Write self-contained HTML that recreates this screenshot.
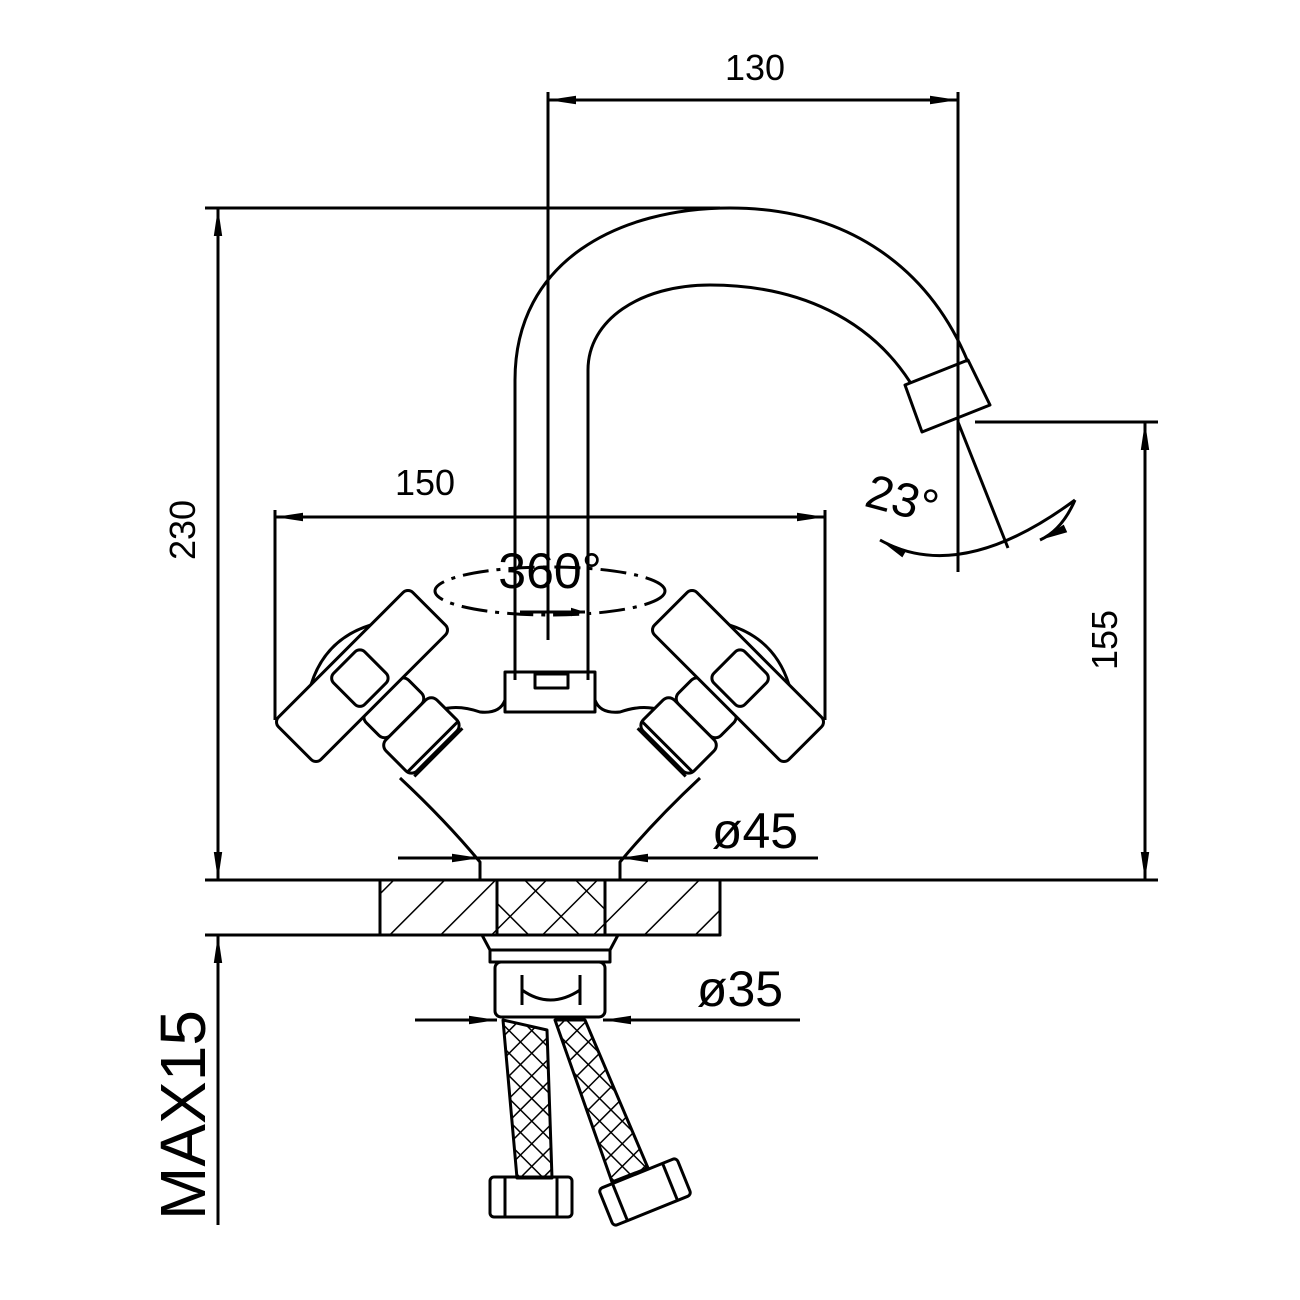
<!DOCTYPE html>
<html><head><meta charset="utf-8"><style>html,body{margin:0;padding:0;background:#fff}svg{display:block}</style></head>
<body>
<svg width="1300" height="1300" viewBox="0 0 1300 1300" xmlns="http://www.w3.org/2000/svg" font-family="Liberation Sans, sans-serif">
<defs>
<marker id="a" viewBox="0 0 10 10" refX="10" refY="5" markerWidth="14" markerHeight="14" markerUnits="userSpaceOnUse" orient="auto-start-reverse"><path d="M0,2 L10,5 L0,8 z" fill="#000"/></marker>
<marker id="b" viewBox="0 0 20 10" refX="20" refY="5" markerWidth="40" markerHeight="14" markerUnits="userSpaceOnUse" orient="auto-start-reverse"><path d="M0,2 L20,5 L0,8 z" fill="#000"/></marker>
<pattern id="h1" width="36" height="36" patternUnits="userSpaceOnUse" patternTransform="rotate(45)"><line x1="0" y1="0" x2="0" y2="36" stroke="#000" stroke-width="3"/></pattern>
<pattern id="h2" width="36" height="36" patternUnits="userSpaceOnUse" patternTransform="rotate(-45)"><line x1="0" y1="0" x2="0" y2="36" stroke="#000" stroke-width="3"/></pattern>
<pattern id="x" width="16" height="16" patternUnits="userSpaceOnUse" patternTransform="rotate(45)"><rect width="16" height="16" fill="#fff"/><line x1="0" y1="0" x2="16" y2="0" stroke="#000" stroke-width="3"/><line x1="0" y1="0" x2="0" y2="16" stroke="#000" stroke-width="3"/></pattern>
</defs>
<g fill="none" stroke="#000" stroke-width="3" stroke-linejoin="round">
<line x1="548" y1="92" x2="548" y2="640"/>
<line x1="958" y1="92" x2="958" y2="572"/>
<line x1="548" y1="100" x2="958" y2="100" marker-start="url(#b)" marker-end="url(#b)"/>
<line x1="205" y1="208" x2="720" y2="208"/>
<line x1="218" y1="208" x2="218" y2="880" marker-start="url(#b)" marker-end="url(#b)"/>
<path d="M515,680 L515,380 C515,260 620,208 730,208 C850,208 930,270 968,362"/>
<path d="M588,680 L588,370 C588,320 640,285 710,285 C800,285 870,320 910,382"/>
<path d="M905,385 L968,360 L990,405 L922,432 Z"/>
<line x1="975" y1="422" x2="1158" y2="422"/>
<line x1="1145" y1="422" x2="1145" y2="880" marker-start="url(#b)" marker-end="url(#b)"/>
<line x1="958" y1="422" x2="1008" y2="548"/>
<path d="M880,540 Q960,585 1075,500" marker-start="url(#b)"/>
<path d="M1075,500 Q1062,530 1040,540" marker-end="url(#b)"/>
<line x1="275" y1="510" x2="275" y2="720"/>
<line x1="825" y1="510" x2="825" y2="720"/>
<line x1="275" y1="517" x2="825" y2="517" marker-start="url(#b)" marker-end="url(#b)"/>
<ellipse cx="550" cy="591" rx="115" ry="24" stroke-dasharray="26,8,4,8"/>
<line x1="520" y1="612" x2="585" y2="612" marker-end="url(#a)"/>
<rect x="505" y="672" width="90" height="40"/>
<rect x="535" y="674" width="33" height="14"/>
<path d="M400,778 Q445,820 480,862 L480,880"/>
<path d="M700,778 Q655,820 620,862 L620,880"/>
<path d="M425,720 Q445,700 480,712 Q500,714 505,700"/>
<path d="M675,720 Q655,700 620,712 Q600,714 595,700"/>
<g transform="translate(362,676) rotate(-45)" fill="#fff">
<path d="M-42,-30 Q0,-52 42,-30"/>
<rect x="-30" y="28" width="60" height="34" rx="8"/>
<rect x="-36" y="62" width="72" height="44" rx="8"/>
<line x1="-36" y1="100" x2="36" y2="100"/>
<line x1="-34" y1="108" x2="34" y2="108"/>
<rect x="-95" y="-30" width="190" height="60" rx="7"/>
<rect x="-25" y="-22" width="44" height="44" rx="7"/>
</g>
<g transform="translate(738,676) rotate(45)" fill="#fff">
<path d="M-42,-30 Q0,-52 42,-30"/>
<rect x="-30" y="28" width="60" height="34" rx="8"/>
<rect x="-36" y="62" width="72" height="44" rx="8"/>
<line x1="-36" y1="100" x2="36" y2="100"/>
<line x1="-34" y1="108" x2="34" y2="108"/>
<rect x="-95" y="-30" width="190" height="60" rx="7"/>
<rect x="-19" y="-22" width="44" height="44" rx="7"/>
</g>
<line x1="398" y1="858" x2="480" y2="858" marker-end="url(#b)"/>
<line x1="480" y1="858" x2="620" y2="858"/>
<line x1="818" y1="858" x2="620" y2="858" marker-end="url(#b)"/>
<line x1="205" y1="880" x2="1158" y2="880"/>
<line x1="205" y1="935" x2="720" y2="935"/>
<rect x="380" y="880" width="340" height="55" fill="url(#h1)"/>
<rect x="497" y="880" width="108" height="55" fill="url(#h2)"/>
<rect x="380" y="880" width="340" height="55"/>
<line x1="218" y1="935" x2="218" y2="1225" marker-start="url(#b)"/>
<path d="M482,935 L490,950 L610,950 L618,935"/>
<rect x="490" y="950" width="120" height="12"/>
<rect x="495" y="962" width="110" height="55" rx="6"/>
<path d="M522,975 L522,1005 M580,975 L580,1005 M522,990 Q550,1010 580,990"/>
<line x1="415" y1="1020" x2="497" y2="1020" marker-end="url(#b)"/>
<line x1="800" y1="1020" x2="603" y2="1020" marker-end="url(#b)"/>
<path d="M503,1020 L517,1178 L552,1178 L547,1030 Z" fill="url(#x)"/>
<path d="M555,1020 L585,1020 L648,1168 L612,1182 Z" fill="url(#x)"/>
<rect x="490" y="1177" width="82" height="40" rx="4"/>
<line x1="505" y1="1177" x2="505" y2="1217"/><line x1="557" y1="1177" x2="557" y2="1217"/>
<g transform="translate(645,1192) rotate(-22)">
<rect x="-42" y="-20" width="84" height="40" rx="4"/>
<line x1="-27" y1="-20" x2="-27" y2="20"/><line x1="27" y1="-20" x2="27" y2="20"/>
</g>
</g>
<g fill="#000">
<text x="755" y="80" font-size="36" text-anchor="middle">130</text>
<text x="425" y="495" font-size="36" text-anchor="middle">150</text>
<text transform="translate(195,530) rotate(-90)" font-size="36" text-anchor="middle">230</text>
<text transform="translate(1117,640) rotate(-90)" font-size="36" text-anchor="middle">155</text>
<text transform="translate(898,515) rotate(15)" font-size="48" text-anchor="middle">23°</text>
<text x="550" y="588" font-size="50" text-anchor="middle">360°</text>
<text x="755" y="848" font-size="50" text-anchor="middle">ø45</text>
<text x="740" y="1006" font-size="50" text-anchor="middle">ø35</text>
<text transform="translate(205,1115) rotate(-90)" font-size="64" text-anchor="middle">MAX15</text>
</g>
</svg>
</body></html>
